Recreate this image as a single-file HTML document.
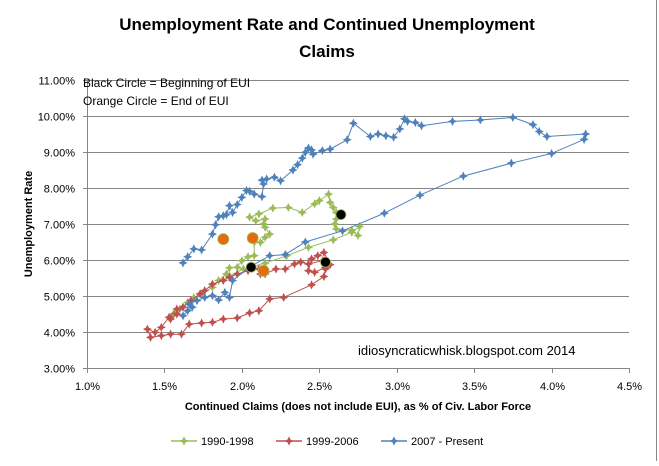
<!DOCTYPE html>
<html><head><meta charset="utf-8"><style>
html,body{margin:0;padding:0;background:#fff;}
body{width:659px;height:461px;overflow:hidden;font-family:"Liberation Sans",sans-serif;}
</style></head><body>
<svg id="chart" width="659" height="461" xmlns="http://www.w3.org/2000/svg" font-family="Liberation Sans, sans-serif">
<rect x="0" y="0" width="659" height="461" fill="#fff"/>
<line x1="656.5" y1="0" x2="656.5" y2="461" stroke="#888" stroke-width="1"/>
<text x="327" y="30" text-anchor="middle" font-size="17" font-weight="bold">Unemployment Rate and Continued Unemployment</text>
<text x="327" y="57" text-anchor="middle" font-size="17" font-weight="bold">Claims</text>
<g id="grid"></g>
<g id="axes"></g>
<g id="series"></g>
<text x="83" y="87" font-size="12">Black Circle = Beginning of EUI</text>
<text x="83" y="105" font-size="12">Orange Circle = End of EUI</text>
<text x="358" y="355" font-size="13">idiosyncraticwhisk.blogspot.com  2014</text>
<text transform="translate(32,224) rotate(-90)" text-anchor="middle" font-size="11" font-weight="bold">Unemployment Rate</text>
<text x="358" y="410" text-anchor="middle" font-size="11" font-weight="bold">Continued Claims (does not include EUI), as % of Civ. Labor Force</text>
<g id="legend"></g>
</svg>
<script>
const xTicks=[1.0,1.5,2.0,2.5,3.0,3.5,4.0,4.5];
const xTickLabels=["1.0%","1.5%","2.0%","2.5%","3.0%","3.5%","4.0%","4.5%"];
const yTicks=[3,4,5,6,7,8,9,10,11];
const yTickLabels=["3.00%","4.00%","5.00%","6.00%","7.00%","8.00%","9.00%","10.00%","11.00%"];
const seriesNames=["1990-1998","1999-2006","2007 - Present"];
const greenX=[1.92,2.01,2.15,2.29,2.43,2.59,2.71,2.76,2.75,2.71,2.61,2.60,2.61,2.61,2.59,2.57,2.56,2.50,2.47,2.39,2.30,2.20,2.11,2.05,2.09,2.15,2.14,2.15,2.18,2.15,2.12,2.08,2.08,2.04,2.00,1.97,1.92,1.90,1.85,1.81,1.74,1.69,1.65,1.60,1.56,1.55];
const greenY=[5.56,5.75,5.91,6.12,6.35,6.56,6.77,6.93,6.68,6.83,6.86,7.00,7.14,7.32,7.46,7.60,7.83,7.65,7.56,7.32,7.46,7.44,7.28,7.19,7.09,7.14,7.00,6.91,6.72,6.63,6.49,6.49,6.12,6.09,5.98,5.80,5.78,5.61,5.43,5.24,5.06,4.96,4.82,4.64,4.50,4.45];
const redX=[1.58,1.53,1.48,1.44,1.39,1.41,1.48,1.54,1.61,1.66,1.74,1.81,1.88,1.97,2.05,2.11,2.18,2.27,2.45,2.53,2.54,2.57,2.53,2.49,2.45,2.43,2.47,2.54,2.52,2.43,2.38,2.34,2.28,2.22,2.15,2.12,2.11,2.04,1.97,1.92,1.88,1.81,1.76,1.73,1.67,1.62,1.58,1.54];
const redY=[4.64,4.41,4.13,3.99,4.08,3.85,3.90,3.94,3.94,4.22,4.25,4.27,4.36,4.39,4.53,4.59,4.92,4.96,5.31,5.54,5.75,5.87,6.21,6.12,6.03,5.70,5.66,5.80,5.98,5.89,5.94,5.89,5.75,5.75,5.61,5.61,5.75,5.70,5.61,5.52,5.43,5.33,5.15,5.06,4.87,4.69,4.50,4.36];
const blueX=[1.62,1.65,1.68,1.66,1.71,1.76,1.81,1.85,1.89,1.92,1.94,2.06,2.18,2.28,2.41,2.65,2.92,3.15,3.43,3.74,4.00,4.21,4.22,3.97,3.92,3.88,3.75,3.54,3.36,3.16,3.12,3.07,3.05,3.02,2.98,2.93,2.88,2.83,2.72,2.68,2.57,2.52,2.46,2.45,2.43,2.41,2.39,2.36,2.33,2.25,2.21,2.16,2.13,2.14,2.13,2.08,2.05,2.03,2.00,1.97,1.94,1.92,1.90,1.88,1.85,1.83,1.81,1.74,1.69,1.65,1.62];
const blueY=[4.45,4.59,4.69,4.78,4.87,4.96,5.01,4.89,5.10,4.96,5.43,5.83,6.12,6.15,6.50,6.81,7.30,7.80,8.33,8.69,8.96,9.35,9.50,9.43,9.57,9.76,9.96,9.89,9.85,9.73,9.82,9.85,9.92,9.64,9.41,9.45,9.50,9.43,9.80,9.34,9.08,9.04,8.94,9.06,9.11,8.99,8.83,8.65,8.50,8.20,8.30,8.25,8.22,8.11,7.76,7.83,7.91,7.93,7.74,7.54,7.32,7.51,7.26,7.23,7.20,6.98,6.72,6.28,6.31,6.09,5.92];
const blackCircleX=[2.64,2.54,2.06];
const blackCircleY=[7.26,5.94,5.80];
const orangeCircleX=[1.88,2.07,2.14];
const orangeCircleY=[6.58,6.61,5.70];

const NS="http://www.w3.org/2000/svg";
const L=87,R=629,T=80,B=368;
function sx(v){return L+(v-1.0)/(4.5-1.0)*(R-L);}
function sy(v){return B-(v-3)/(11-3)*(B-T);}
function mk(tag,attrs,parent){const e=document.createElementNS(NS,tag);for(const k in attrs)e.setAttribute(k,attrs[k]);parent.appendChild(e);return e;}
const grid=document.getElementById('grid'),axes=document.getElementById('axes'),ser=document.getElementById('series'),leg=document.getElementById('legend');

yTicks.forEach((v,i)=>{
  const y=Math.round(sy(v))+0.5;
  if(i>0){const g=mk('line',{x1:L,x2:R,y1:y,y2:y,stroke:'#868686','stroke-width':1},grid);
  
  }
  const tk=mk('line',{x1:L-4,x2:L,y1:y,y2:y,stroke:'#868686'},axes);
  
  
  const t=mk('text',{x:75,y:y+4,'text-anchor':'end','font-size':11},axes);
  t.textContent=yTickLabels[i];
  
  
});
const ya=mk('line',{x1:L+0.5,x2:L+0.5,y1:T,y2:B,stroke:'#868686'},axes);


const xa=mk('line',{x1:L,x2:R,y1:B+0.5,y2:B+0.5,stroke:'#868686'},axes);


xTicks.forEach((v,i)=>{
  const x=Math.round(sx(v))+0.5;
  const tk=mk('line',{x1:x,x2:x,y1:B,y2:B+5,stroke:'#868686'},axes);
  
  
  const t=mk('text',{x:x,y:390,'text-anchor':'middle','font-size':11},axes);
  t.textContent=xTickLabels[i];
  
  
});

function star(x,y,c,parent){
  const s=4.6,w=1.5;
  const p=mk('path',{d:`M${x} ${y-s}L${x+w} ${y-w}L${x+s} ${y}L${x+w} ${y+w}L${x} ${y+s}L${x-w} ${y+w}L${x-s} ${y}L${x-w} ${y-w}Z`,fill:c},parent);
  return p;
}
function drawSeries(xs,ys,c,name){
  const g=mk('g',{},ser);
  
  
  const pts=xs.map((v,i)=>sx(v).toFixed(1)+','+sy(ys[i]).toFixed(1)).join(' ');
  const pl=mk('polyline',{points:pts,fill:'none',stroke:c,'stroke-width':1},g);
  
  
  xs.forEach((v,i)=>{
    const m=star(sx(v),sy(ys[i]),c,g);
    
    
  });
}
drawSeries(greenX,greenY,'#9bbb59','series-1990-1998');
drawSeries(redX,redY,'#c0504d','series-1999-2006');
drawSeries(blueX,blueY,'#4f81bd','series-2007-present');
blackCircleX.forEach((v,i)=>{
  const c=mk('circle',{cx:sx(v),cy:sy(blackCircleY[i]),r:5,fill:'#000',stroke:'#9bbb59','stroke-width':0.8},ser);
  
  
});
orangeCircleX.forEach((v,i)=>{
  const c=mk('circle',{cx:sx(v),cy:sy(orangeCircleY[i]),r:5.5,fill:'#e46c0a',stroke:'#9bbb59','stroke-width':0.8},ser);
  
  
});

const legCols=['#9bbb59','#c0504d','#4f81bd'];
const legX=[171,276,381];
seriesNames.forEach((n,i)=>{
  const g=mk('g',{},leg);
  
  
  mk('line',{x1:legX[i],x2:legX[i]+26,y1:441,y2:441,stroke:legCols[i],'stroke-width':1.5},g);
  star(legX[i]+13,441,legCols[i],g);
  const t=mk('text',{x:legX[i]+30,y:445,'font-size':11},g);
  t.textContent=n;
});
</script>
</body></html>
